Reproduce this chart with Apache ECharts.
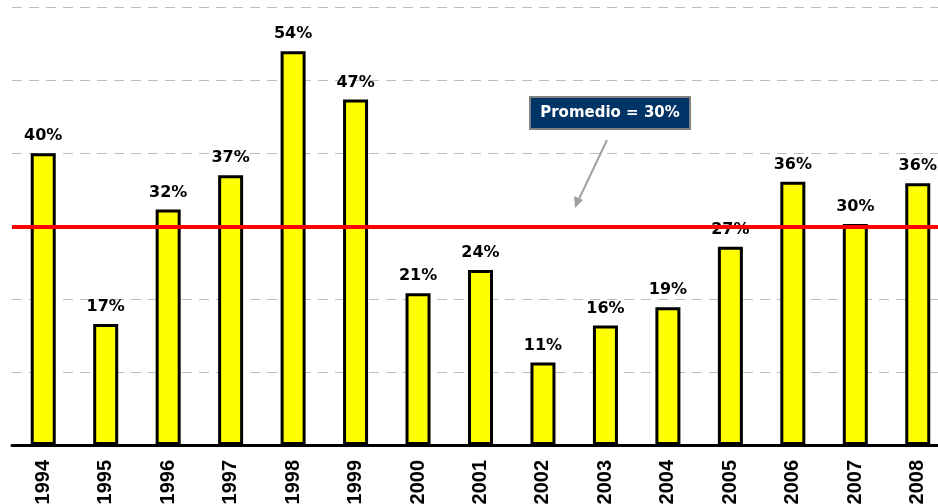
<!DOCTYPE html>
<html>
<head>
<meta charset="utf-8">
<script src="https://cdn.jsdelivr.net/npm/echarts@6/dist/echarts.min.js"></script>
<style>
  html, body { margin: 0; padding: 0; background: #fff; }
  #chart { width: 938px; height: 504px; }
</style>
</head>
<body>
<div id="chart"></div>
<script>
const years = ['1994', '1995', '1996', '1997', '1998', '1999', '2000', '2001',
  '2002', '2003', '2004', '2005', '2006', '2007', '2008'];
const shares = [0.40, 0.166, 0.323, 0.37, 0.54, 0.474, 0.208, 0.24,
  0.113, 0.164, 0.189, 0.272, 0.361, 0.303, 0.359];
const average = 0.30;
const averageLabel = 'Promedio = 30%';

const chart = echarts.init(document.getElementById('chart'));

const option = {
  animation: false,
  grid: {
    left: 12, right: -11, top: 7.5, bottom: 59,
    containLabel: false,
    outerBoundsMode: 'none'
  },
  xAxis: {
    type: 'category',
    data: years,
    axisLine: { lineStyle: { color: '#000', width: 3 } },
    axisTick: { show: false },
    axisLabel: {
      rotate: 90,
      margin: 15,
      color: '#000',
      fontFamily: 'Liberation Sans',
      fontWeight: 'bold',
      fontSize: 20
    }
  },
  yAxis: {
    type: 'value',
    min: 0,
    max: 0.6,
    interval: 0.1,
    axisLine: { show: false },
    axisTick: { show: false },
    axisLabel: { show: false },
    splitLine: { lineStyle: { color: '#bdbdbd', width: 1, type: [10, 7] } }
  },
  series: [{
    type: 'bar',
    data: shares,
    barWidth: 25,
    itemStyle: { color: '#ffff00', borderColor: '#000', borderWidth: 3 },
    label: {
      show: true,
      position: 'top',
      distance: 9,
      color: '#000',
      fontFamily: 'DejaVu Sans',
      fontWeight: 'bold',
      fontSize: 16,
      formatter: (p) => Math.round(p.value * 100) + '%'
    },
    markLine: {
      silent: true,
      symbol: 'none',
      label: { show: false },
      lineStyle: { color: '#ff0000', width: 4, type: 'solid' },
      data: [{ yAxis: average }]
    }
  }]
};

chart.setOption(option);

// callout box with arrow pointing at the average line
chart.setOption({
  graphic: [
    {
      type: 'rect',
      shape: { x: 530, y: 97, width: 160, height: 32 },
      style: { fill: '#003366', stroke: '#808080', lineWidth: 2 }
    },
    {
      type: 'text',
      style: {
        x: 610, y: 113,
        text: averageLabel,
        fill: '#fff',
        font: 'bold 15px "DejaVu Sans"',
        align: 'center',
        verticalAlign: 'middle'
      }
    },
    {
      type: 'line',
      shape: { x1: 607, y1: 140, x2: 579, y2: 199 },
      style: { stroke: '#a0a0a0', lineWidth: 2 }
    },
    {
      type: 'polygon',
      shape: { points: [[575, 208], [574, 196], [583, 200]] },
      style: { fill: '#a0a0a0' }
    }
  ]
});
</script>
</body>
</html>
